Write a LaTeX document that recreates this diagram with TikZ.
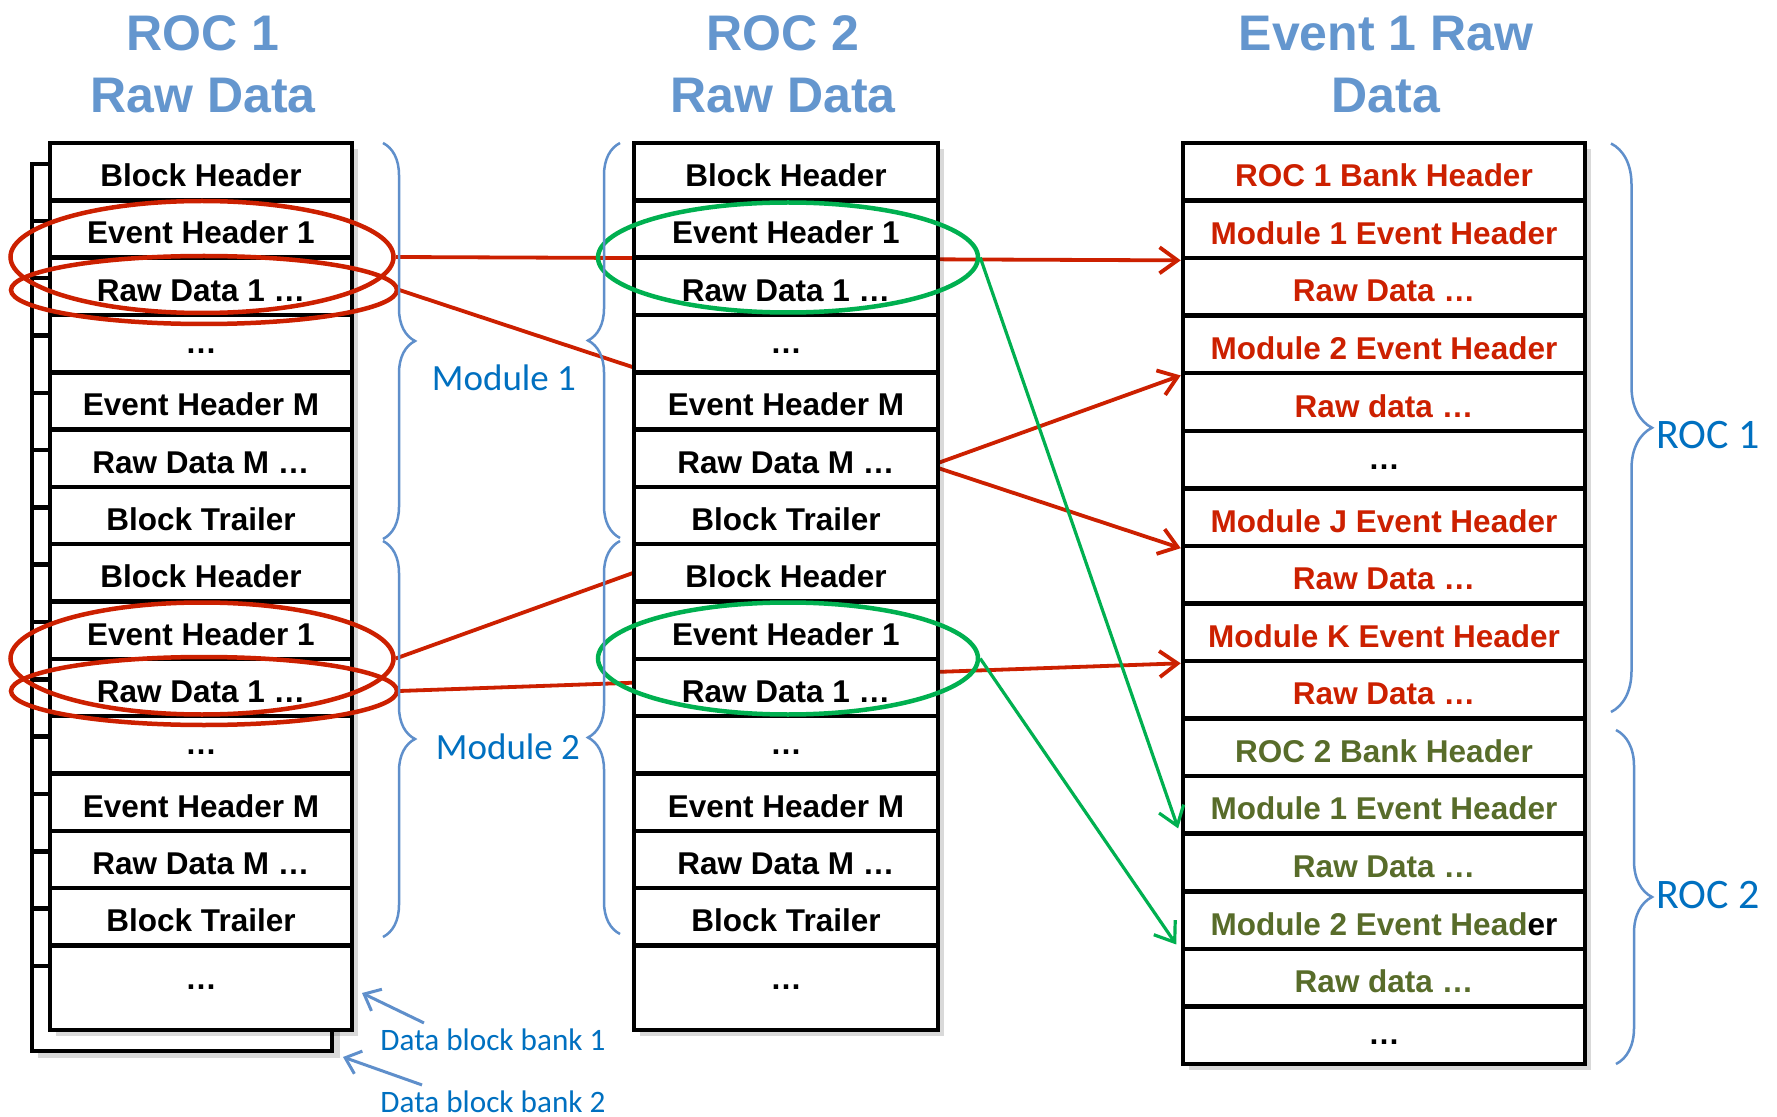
\documentclass[tikz,border=0pt]{standalone}
\usepackage{fontspec}
\setmainfont{Liberation Sans}
\newfontfamily\calibri{Carlito}
\usetikzlibrary{shapes.geometric,decorations.pathreplacing,arrows.meta}

\definecolor{titleblue}{RGB}{100,150,206}
\definecolor{labelblue}{RGB}{0,112,192}
\definecolor{braceblue}{RGB}{95,143,203}
\definecolor{evred}{RGB}{204,32,0}
\definecolor{evolive}{RGB}{88,108,42}
\definecolor{evgreen}{RGB}{0,176,80}

\begin{document}
\begin{tikzpicture}[x=0.5pt, y=-0.5pt,
    cell/.style={draw, line width=2.25pt, fill=white, inner sep=0pt, text height=15pt, text depth=0pt, font=\bfseries\fontsize{15.75}{18}\selectfont},
    rocrow/.style={cell, minimum width=151pt, minimum height=28.66pt},
    midrow/.style={cell, minimum width=152pt, minimum height=28.66pt},
    evrow/.style={cell, minimum width=201pt, minimum height=28.78pt},
    roc1row/.style={evrow, text=evred},
    roc2row/.style={evrow, text=evolive},
    dotrow/.style={text height=9.5pt},
    lastrow/.style={minimum height=42.26pt, text height=1.5pt},
    colshade/.style={fill=black, opacity=0.15},
    redring/.style={ellipse, draw=evred, line width=2.25pt, inner sep=0pt},
    greenring/.style={ellipse, draw=evgreen, line width=2.25pt, inner sep=0pt},
    redarrow/.style={draw=evred, line width=1.9pt, -{Straight Barb[length=9pt,width=13pt]}},
    greenarrow/.style={draw=evgreen, line width=1.6pt, -{Straight Barb[length=9pt,width=13pt]}, shorten >=4pt},
    bluearrow/.style={draw=braceblue, line width=1.5pt, -{Straight Barb[length=7pt,width=12pt]}},
    rocbrace/.style={draw=braceblue, line width=1.25pt, decorate, decoration={brace, amplitude=#1}},
    modlabel/.style={anchor=base, inner sep=0pt, text=labelblue, font=\calibri\fontsize{18.5}{22}\selectfont},
    roclabel/.style={anchor=base west, inner sep=0pt, text=labelblue, font=\calibri\fontsize{21}{25}\selectfont},
    banklabel/.style={anchor=base west, inner sep=0pt, text=labelblue, font=\calibri\fontsize{15.6}{18}\selectfont},
    title/.style={anchor=base, inner sep=0pt, text=titleblue, font=\bfseries\fontsize{25}{30}\selectfont}]

    \path[fill=white, use as bounding box] (0,0) rectangle (1777,1117);

    \fill[colshade] (38,171) rectangle (340,1058);
    \node[draw, line width=2.25pt, fill=white, inner sep=0pt, minimum width=150pt, minimum height=443.5pt] (bankback) at (182,607.5) {};
    \draw[line width=2.25pt] (32,220.8) -- (50,220.8) (32,278.1) -- (50,278.1) (32,335.5) -- (50,335.5)
        (32,392.8) -- (50,392.8) (32,450.1) -- (50,450.1) (32,507.4) -- (50,507.4) (32,564.7) -- (50,564.7)
        (32,622.1) -- (50,622.1) (32,679.4) -- (50,679.4) (32,736.7) -- (50,736.7) (32,794) -- (50,794)
        (32,851.3) -- (50,851.3) (32,908.7) -- (50,908.7) (32,966) -- (50,966);

    \fill[colshade] (56,149) rectangle (358,1036);
    \node[rocrow] (l1) at (201,171.66) {Block Header};
    \node[rocrow] (l2) at (201,228.98) {Event Header 1};
    \node[rocrow] (l3) at (201,286.3) {Raw Data 1 …};
    \node[rocrow, dotrow] (l4) at (201,343.62) {…};
    \node[rocrow] (l5) at (201,400.94) {Event Header M};
    \node[rocrow] (l6) at (201,458.26) {Raw Data M …};
    \node[rocrow] (l7) at (201,515.58) {Block Trailer};
    \node[rocrow] (l8) at (201,572.9) {Block Header};
    \node[rocrow] (l9) at (201,630.22) {Event Header 1};
    \node[rocrow] (l10) at (201,687.54) {Raw Data 1 …};
    \node[rocrow, dotrow] (l11) at (201,744.86) {…};
    \node[rocrow] (l12) at (201,802.18) {Event Header M};
    \node[rocrow] (l13) at (201,859.5) {Raw Data M …};
    \node[rocrow] (l14) at (201,916.82) {Block Trailer};
    \node[rocrow, lastrow] (l15) at (201,987.74) {…};

    \node[redring, minimum width=191.5pt, minimum height=56pt] (roc1ev1) at (202,257) {};
    \node[redring, minimum width=193pt, minimum height=34pt] (roc1raw1) at (204,290) {};
    \node[redring, minimum width=191.5pt, minimum height=56pt] (roc1ev2) at (202,658.5) {};
    \node[redring, minimum width=193pt, minimum height=34pt] (roc1raw2) at (204,691) {};

    \fill[colshade] (1189,149) rectangle (1591,1070);
    \node[roc1row] (e1) at (1384,171.78) {ROC 1 Bank Header};
    \node[roc1row] (e2) at (1384,229.34) {Module 1 Event Header};
    \node[roc1row] (e3) at (1384,286.9) {Raw Data …};
    \node[roc1row] (e4) at (1384,344.46) {Module 2 Event Header};
    \node[roc1row] (e5) at (1384,402.02) {Raw data …};
    \node[evrow, dotrow] (e6) at (1384,459.58) {…};
    \node[roc1row] (e7) at (1384,517.14) {Module J Event Header};
    \node[roc1row] (e8) at (1384,574.7) {Raw Data …};
    \node[roc1row] (e9) at (1384,632.26) {Module K Event Header};
    \node[roc1row] (e10) at (1384,689.82) {Raw Data …};
    \node[roc2row] (e11) at (1384,747.38) {ROC 2 Bank Header};
    \node[roc2row] (e12) at (1384,804.94) {Module 1 Event Header};
    \node[roc2row] (e13) at (1384,862.5) {Raw Data …};
    \node[roc2row] (e14) at (1384,920.06) {Module 2 Event Head\textcolor{black}{er}};
    \node[roc2row] (e15) at (1384,977.62) {Raw data …};
    \node[evrow, dotrow] (e16) at (1384,1035.18) {…};

    \draw[redarrow] (roc1ev1.east) -- (e2.south west);
    \draw[redarrow] (roc1raw1.east) -- (e7.south west);
    \draw[redarrow] (roc1ev2.east) -- (e4.south west);
    \draw[redarrow] (roc1raw2.east) -- (e9.south west);

    \fill[colshade] (640,149) rectangle (944,1036);
    \node[midrow] (m1) at (786,171.66) {Block Header};
    \node[midrow] (m2) at (786,228.98) {Event Header 1};
    \node[midrow] (m3) at (786,286.3) {Raw Data 1 …};
    \node[midrow, dotrow] (m4) at (786,343.62) {…};
    \node[midrow] (m5) at (786,400.94) {Event Header M};
    \node[midrow] (m6) at (786,458.26) {Raw Data M …};
    \node[midrow] (m7) at (786,515.58) {Block Trailer};
    \node[midrow] (m8) at (786,572.9) {Block Header};
    \node[midrow] (m9) at (786,630.22) {Event Header 1};
    \node[midrow] (m10) at (786,687.54) {Raw Data 1 …};
    \node[midrow, dotrow] (m11) at (786,744.86) {…};
    \node[midrow] (m12) at (786,802.18) {Event Header M};
    \node[midrow] (m13) at (786,859.5) {Raw Data M …};
    \node[midrow] (m14) at (786,916.82) {Block Trailer};
    \node[midrow, lastrow] (m15) at (786,987.74) {…};

    \node[greenring, minimum width=190pt, minimum height=55pt] (roc2mod1) at (788,257.5) {};
    \node[greenring, minimum width=190pt, minimum height=56pt] (roc2mod2) at (788,658.5) {};

    \draw[greenarrow] (roc2mod1.east) -- (e12.south west);
    \draw[greenarrow] (roc2mod2.east) -- (e14.south west);

    \draw[rocbrace=16pt] (383,143) -- (383,539);
    \draw[rocbrace=16pt] (383,541) -- (383,937);
    \draw[rocbrace=16pt] (620,538) -- (620,143);
    \draw[rocbrace=16pt] (620,934) -- (620,541);
    \draw[rocbrace=20.5pt] (1611,143.5) -- (1611,712);
    \draw[rocbrace=18pt] (1616,730) -- (1616,1064);

    \node[modlabel] (mod1) at (504,391) {Module 1};
    \node[modlabel] (mod2) at (508,759) {Module 2};
    \node[roclabel] (roc1) at (1656,448) {ROC 1};
    \node[roclabel] (roc2) at (1656,908) {ROC 2};

    \node[banklabel] (bank1) at (380,1050) {Data block bank 1};
    \node[banklabel] (bank2) at (380,1112) {Data block bank 2};
    \coordinate (bank1tip) at (362,993);
    \coordinate (bank2tip) at (343,1057);
    \draw[bluearrow] ([xshift=22pt,yshift=2.5pt]bank1.north west) -- (bank1tip);
    \draw[bluearrow] ([xshift=21pt,yshift=2.5pt]bank2.north west) -- (bank2tip);

    \node[title] (t1a) at (203,51) {ROC 1};
    \node[title] (t1b) at (203,113) {Raw Data};
    \node[title] (t2a) at (783,51) {ROC 2};
    \node[title] (t2b) at (783,113) {Raw Data};
    \node[title] (t3a) at (1386,51) {Event 1 Raw};
    \node[title] (t3b) at (1386,113) {Data};
\end{tikzpicture}
\end{document}
